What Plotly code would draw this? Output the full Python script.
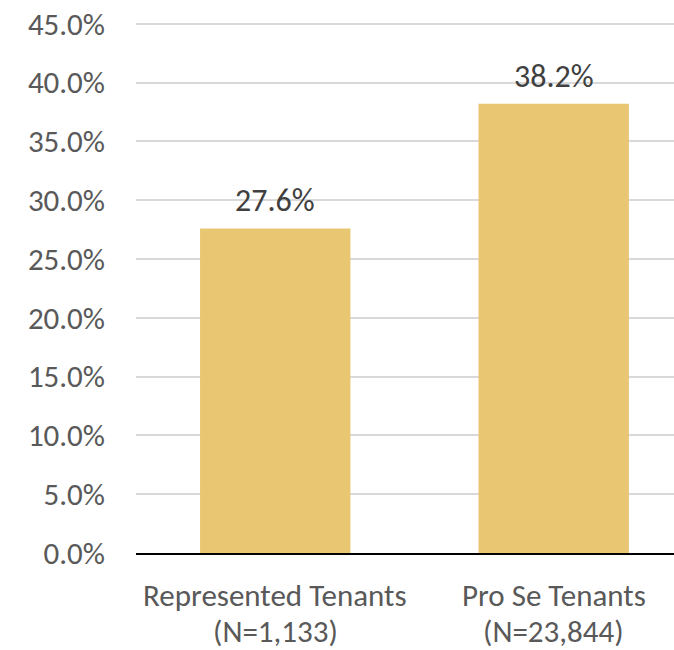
import plotly.graph_objects as go

categories = ["Represented Tenants", "Pro Se Tenants"]
sample_sizes = ["(N=1,133)", "(N=23,844)"]
values = [27.6, 38.2]
tick_vals = [0, 5, 10, 15, 20, 25, 30, 35, 40, 45]
tick_text = [f"{v:.1f}%" for v in tick_vals]

FONT = "Calibri, Carlito, Lato, sans-serif"
GREY = "#595959"

fig = go.Figure(
    go.Bar(
        x=categories,
        y=values,
        marker=dict(color="#E9C672", line=dict(width=0)),
        width=0.54,
    )
)

# value labels above bars
for cat, val in zip(categories, values):
    fig.add_annotation(
        x=cat, y=val, text=f"{val:.1f}%", showarrow=False,
        yanchor="bottom", yshift=6,
        font=dict(family=FONT, size=32, color="#404040"),
    )

# two-line category labels (tighter line spacing than tick text)
for cat, n in zip(categories, sample_sizes):
    fig.add_annotation(
        x=cat, y=0, yref="paper", text=cat, showarrow=False,
        yanchor="middle", yshift=-42,
        font=dict(family=FONT, size=31, color=GREY),
    )
    fig.add_annotation(
        x=cat, y=0, yref="paper", text=n, showarrow=False,
        yanchor="middle", yshift=-78,
        font=dict(family=FONT, size=31, color=GREY),
    )

fig.update_layout(
    width=674,
    height=650,
    margin=dict(l=136, r=0, t=22, b=97),
    plot_bgcolor="white",
    paper_bgcolor="white",
    showlegend=False,
    font=dict(family=FONT, size=31, color=GREY),
)
fig.update_yaxes(
    range=[0, 45.15],
    tickvals=tick_vals,
    ticktext=tick_text,
    showgrid=True,
    gridcolor="#D9D9D9",
    gridwidth=1.5,
    zeroline=False,
    showline=False,
    ticks="",
    automargin=False,
    ticklabelstandoff=30,
    tickfont=dict(family=FONT, size=31, color=GREY),
)
fig.update_xaxes(
    range=[-0.5, 1.432],
    showline=True,
    linecolor="black",
    linewidth=2,
    ticks="",
    showgrid=False,
    showticklabels=False,
    automargin=False,
)

fig.write_html(
    "out.html",
    config={"displayModeBar": False},
    post_script="document.body.style.margin='0';document.body.style.overflow='hidden';",
)
